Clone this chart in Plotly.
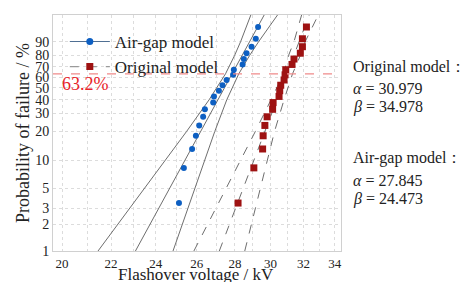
import numpy as np
import plotly.graph_objects as go

# ---- data ----
# median-rank failure probabilities (%) of the 20 ordered flashovers
rank_prob = [3.43, 8.33, 13.24, 18.14, 23.04, 27.94, 32.84, 37.75, 42.65, 47.55,
             52.45, 57.35, 62.25, 67.16, 72.06, 76.96, 81.86, 86.76, 91.67, 96.57]
airgap_v = [25.11, 25.35, 25.76, 25.95, 26.12, 26.32, 26.41, 26.84, 26.88, 27.14,
            27.33, 27.55, 27.90, 27.94, 28.42, 28.49, 28.64, 28.92, 29.16, 29.29]
original_v = [28.17, 29.05, 29.55, 29.58, 29.68, 29.81, 30.13, 30.16, 30.51, 30.55,
              30.61, 30.81, 30.87, 30.91, 31.29, 31.41, 31.80, 31.93, 31.93, 32.18]

# fitted lines and confidence bounds (voltage at given probabilities)
fit_prob = [1, 99]
airgap_fit = [23.07, 29.64]
original_fit = [27.16, 32.36]
band_prob = [1, 2, 5, 10, 20, 40, 63.2, 80, 90, 99]
airgap_lo = [21.45, 22.30, 23.50, 24.46, 25.48, 26.63, 27.49, 27.98, 28.31, 28.88]
airgap_hi = [24.82, 25.27, 25.89, 26.38, 26.92, 27.56, 28.21, 28.81, 29.32, 30.42]
original_lo = [25.85, 26.56, 27.53, 28.31, 29.13, 30.04, 30.77, 31.08, 31.41, 31.88]
original_hi = [28.54, 28.91, 29.41, 29.81, 30.24, 30.81, 31.32, 31.80, 32.10, 32.93]

y_ticks = [1, 2, 3, 5, 10, 20, 30, 40, 50, 60, 70, 80, 90, 99]
x_ticks = list(range(20, 35))
char_prob = 63.2


def wb(p):
    p = np.asarray(p, dtype=float) / 100.0
    return np.log(-np.log(1.0 - p))


SERIF = "Liberation Serif"
GRAY = "#6e6e6e"
BLUE = "#0d5fc2"
RED = "#9e1212"

fig = go.Figure()

for lo, hi, fit, dash in [(airgap_lo, airgap_hi, airgap_fit, "solid"),
                          (original_lo, original_hi, original_fit, "dash")]:
    for xs, ps in [(lo, band_prob), (hi, band_prob), (fit, fit_prob)]:
        fig.add_trace(go.Scatter(x=xs, y=wb(ps), mode="lines", showlegend=False,
                                 line=dict(color=GRAY, width=1, dash=dash),
                                 hoverinfo="skip"))

fig.add_trace(go.Scatter(x=airgap_v, y=wb(rank_prob), mode="markers", showlegend=False,
                         marker=dict(color=BLUE, size=6, symbol="circle")))
fig.add_trace(go.Scatter(x=original_v, y=wb(rank_prob), mode="markers", showlegend=False,
                         marker=dict(color=RED, size=7, symbol="square")))

# legend entries
fig.add_trace(go.Scatter(x=[None], y=[None], mode="lines+markers", name="Air-gap model",
                         line=dict(color="#4f6f93", width=1.2),
                         marker=dict(color=BLUE, size=7, symbol="circle")))
fig.add_trace(go.Scatter(x=[None], y=[None], mode="lines+markers", name="Original model",
                         line=dict(color="#9a9a9a", width=1.2, dash="dash"),
                         marker=dict(color=RED, size=7, symbol="square")))

yc = float(wb([char_prob])[0])
fig.add_shape(type="line", xref="paper", x0=0, x1=1, yref="y", y0=yc, y1=yc,
              line=dict(color="#f08a8a", width=1.2, dash="dash"))
fig.add_annotation(xref="paper", x=0.025, yref="y", y=yc, yshift=-10, text="63.2%",
                   showarrow=False, xanchor="left", yanchor="middle",
                   font=dict(family=SERIF, size=18, color="#e8242a"))

right_lines = [("Original model：", 67), ("<i>α</i> = 30.979", 88), ("<i>β</i> = 34.978", 107),
               ("Air-gap model：", 158), ("<i>α</i> = 27.845", 180), ("<i>β</i> = 24.473", 199)]
for txt, ypix in right_lines:
    fig.add_annotation(xref="paper", yref="paper", x=(351 - 53) / 288.0,
                       y=1 - (ypix - 15) / 236.0, text=txt, showarrow=False,
                       xanchor="left", yanchor="middle",
                       font=dict(family=SERIF, size=16, color="#222"))

# x-axis title as an annotation just below the tick labels
fig.add_annotation(xref="paper", yref="paper", x=0.498, y=0, yshift=-23,
                   text="Flashover voltage / kV", showarrow=False,
                   xanchor="center", yanchor="middle",
                   font=dict(family=SERIF, size=17, color="#222"))

# the page adds an 8 px body margin, so the figure is shifted by 8 px
fig.update_layout(
    width=464, height=274,
    margin=dict(l=45, r=131, t=7, b=31, autoexpand=False),
    plot_bgcolor="white", paper_bgcolor="white",
    font=dict(family=SERIF, color="#222"),
    legend=dict(x=0.041, y=0.962, xanchor="left", yanchor="top", bgcolor="rgba(0,0,0,0)",
                font=dict(family=SERIF, size=17, color="#222"), itemwidth=40,
                tracegroupgap=0),
    xaxis=dict(type="log", range=[np.log10(19.65), np.log10(34.42)],
               tickvals=x_ticks,
               ticktext=[str(v) if v % 2 == 0 else "" for v in x_ticks],
               showgrid=True, gridcolor="#dcdcdc", griddash="dot", gridwidth=1,
               showline=True, linecolor="#d0d0d0", mirror=True, zeroline=False,
               automargin=False,
               ticks="", tickfont=dict(family=SERIF, size=13, color="#222")),
    yaxis=dict(range=[float(wb([1])[0]), float(wb([99])[0])],
               tickvals=list(wb(y_ticks)), ticktext=[str(v) for v in y_ticks],
               showgrid=True, gridcolor="#dcdcdc", griddash="dot", gridwidth=1,
               showline=True, linecolor="#d0d0d0", mirror=True, zeroline=False,
               automargin=False,
               ticks="", tickfont=dict(family=SERIF, size=14, color="#222"),
               title=dict(text="Probability of failure / %", standoff=0,
                          font=dict(family=SERIF, size=18, color="#222"))),
)

fig.write_html("out.html")
